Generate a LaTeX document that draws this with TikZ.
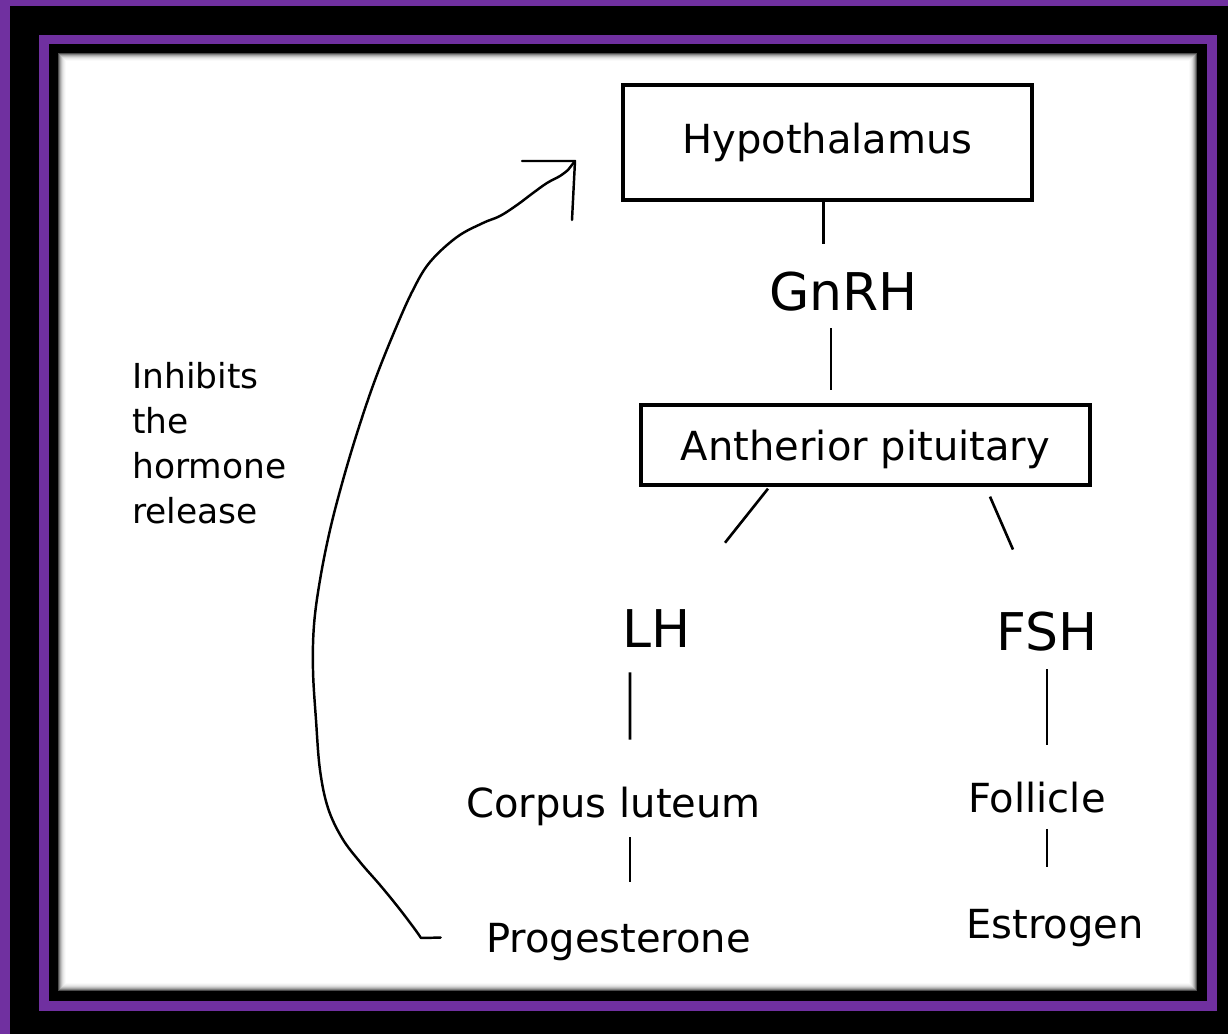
\documentclass[tikz,border=0pt]{standalone}
\usepackage{fontspec}
\setmainfont{DejaVu Sans}
\usetikzlibrary{calc}

\definecolor{framepurple}{RGB}{112,48,160}

\begin{document}
\begin{tikzpicture}[x=0.02cm,y=-0.02cm,
	organ/.style={draw,line width=1.9pt,inner sep=0pt,font=\fontsize{22.8}{27}\selectfont},
	hormone/.style={inner sep=0pt,anchor=base,font=\fontsize{29.6}{35}\selectfont},
	tissue/.style={inner sep=0pt,anchor=base,font=\fontsize{22.8}{27}\selectfont},
	link/.style={line width=1.5pt},
	feedback/.style={line width=1.4pt,line join=round,line cap=round}]
	\useasboundingbox (0,0) rectangle (1228,1034);
	% frame
	\fill[black] (0,0) rectangle (1228,1034);
	\fill[framepurple] (0,0) rectangle (1228,6);
	\fill[framepurple] (0,0) rectangle (10,1034);
	\fill[framepurple] (39,35) rectangle (1217,1011);
	\fill[black] (49,44) rectangle (1207,1001);
	\fill[white] (58,53) rectangle (1197,991);
	\foreach \i/\c in {0/70,1/50,2/35,3/24,4/15,5/9,6/5,7/2}
		\draw[black!\c,line width=0.02cm] (58.5+\i,53.5+\i) rectangle (1196.5-\i,990.5-\i);
	% glands and hormones
	\node[organ,minimum width=8.18cm,minimum height=2.3cm] (hypo) at (827.5,142.5) {Hypothalamus};
	\node[hormone] (gnrh) at (843.5,310) {GnRH};
	\node[organ,minimum width=8.98cm,minimum height=1.6cm,text depth=0pt] (pit) at (865.5,445) {Antherior pituitary};
	\node[hormone] (lh) at (656.5,647) {LH};
	\node[hormone] (fsh) at (1047,650) {FSH};
	\node[tissue] (luteum) at (613.5,817) {Corpus luteum};
	\node[tissue] (prog) at (618.5,952) {Progesterone};
	\node[tissue] (foll) at (1037,812) {Follicle};
	\node[tissue] (estr) at (1055,938) {Estrogen};
	\node[inner sep=0pt,anchor=north west,align=left,font=\fontsize{19.6}{25.6}\selectfont] (inhib) at (132,362) {Inhibits\\the\\hormone\\release};
	% stubs
	\draw[link] ($(hypo.south)+(-4,0)$) -- ($(gnrh.north)+(-20,-27)$);
	\draw[link] ($(gnrh.south)+(-12.5,17)$) -- ($(pit.north)+(-34.5,-13)$);
	\draw[link] ($(pit.south)+(-97.5,2)$) -- ($(lh.north)+(68.5,-66)$);
	\draw[link] ($(pit.south)+(124.5,10)$) -- ($(fsh.north)+(-34,-61.5)$);
	\draw[link] ($(lh.south)+(-26.5,25)$) -- ($(luteum.north)+(16.5,-46.6)$);
	\draw[link] ($(luteum.south)+(16.5,11.4)$) -- ($(prog.north)+(11.5,-40.8)$);
	\draw[link] ($(fsh.south)+(0,18)$) -- ($(foll.north)+(10,-36.6)$);
	\draw[link] ($(foll.south)+(10,16)$) -- ($(estr.north)+(-8,-41.8)$);
	% feedback to the hypothalamus
	\coordinate (fbtip) at (575,161);
	\draw[feedback] ($(prog.west)+(-45,-4)$) -- (421,938) -- plot[smooth,tension=0.6] coordinates {(421,938) (414,928) (398,907) (380,885) (360,862) (342,838) (328,808) (320,770) (316,720) (313,670) (314,625) (320,580) (330,530) (343,480) (358,430) (375,380) (395,330) (413,290) (430,262) (457,237) (483,223) (500,216) (517,205) (533,193) (547,183) (560,176) (568,170)} -- (fbtip);
	\draw[feedback] ($(fbtip)+(-53,0)$) -- (fbtip) -- ($(fbtip)+(-3,59)$);
\end{tikzpicture}
\end{document}
